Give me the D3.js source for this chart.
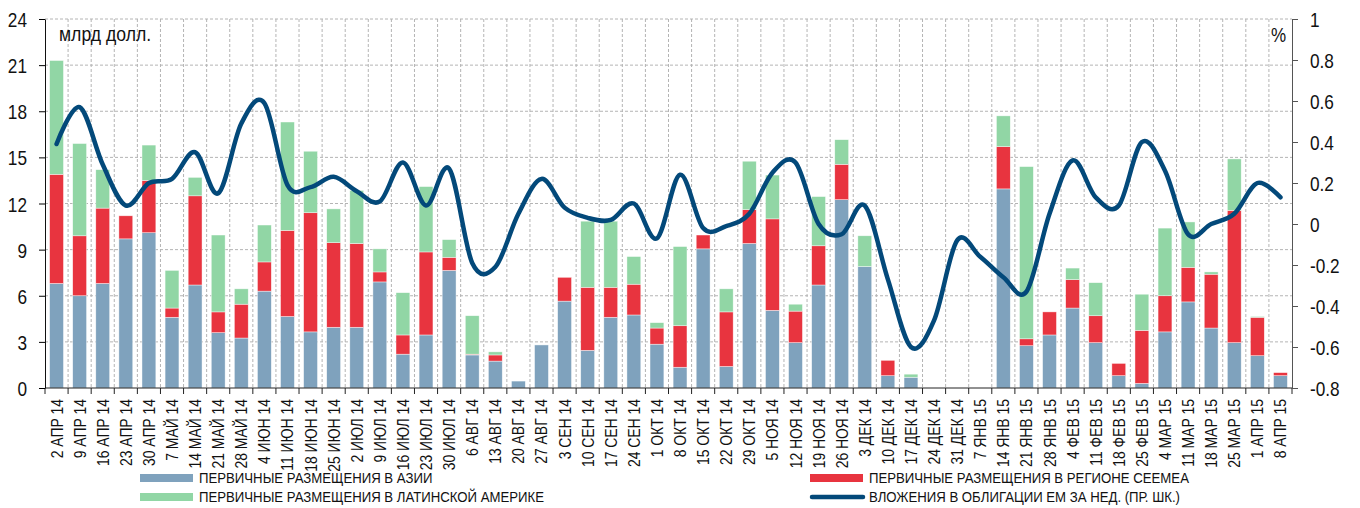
<!DOCTYPE html>
<meta charset="utf-8">
<style>
    body { margin: 0; background: #fff; }
    text { font-family: "Liberation Sans", Arial, sans-serif; fill: #111; }
    .grid line { stroke: #b4b4b4; stroke-dasharray: 3,2; }
</style>
<svg width="1360" height="508"></svg>
<script src="https://d3js.org/d3.v7.min.js"></script>
<script>

var weeks = ["2 АПР 14","9 АПР 14","16 АПР 14","23 АПР 14","30 АПР 14","7 МАЙ 14","14 МАЙ 14","21 МАЙ 14","28 МАЙ 14",
    "4 ИЮН 14","11 ИЮН 14","18 ИЮН 14","25 ИЮН 14","2 ИЮЛ 14","9 ИЮЛ 14","16 ИЮЛ 14","23 ИЮЛ 14","30 ИЮЛ 14",
    "6 АВГ 14","13 АВГ 14","20 АВГ 14","27 АВГ 14","3 СЕН 14","10 СЕН 14","17 СЕН 14","24 СЕН 14",
    "1 ОКТ 14","8 ОКТ 14","15 ОКТ 14","22 ОКТ 14","29 ОКТ 14","5 НОЯ 14","12 НОЯ 14","19 НОЯ 14","26 НОЯ 14",
    "3 ДЕК 14","10 ДЕК 14","17 ДЕК 14","24 ДЕК 14","31 ДЕК 14","7 ЯНВ 15","14 ЯНВ 15","21 ЯНВ 15","28 ЯНВ 15",
    "4 ФЕВ 15","11 ФЕВ 15","18 ФЕВ 15","25 ФЕВ 15","4 МАР 15","11 МАР 15","18 МАР 15","25 МАР 15","1 АПР 15","8 АПР 15"];

// млрд долл.
var asia = [6.8,6.0,6.8,9.7,10.1,4.6,6.7,3.6,3.25,6.3,4.65,3.65,3.95,3.95,6.9,2.2,3.45,7.65,
    2.15,1.75,0.45,2.8,5.65,2.45,4.6,4.75,2.85,1.35,9.05,1.4,9.4,5.05,2.95,6.7,12.25,
    7.9,0.8,0.7,0,0,0,12.95,2.75,3.45,5.2,2.95,0.8,0.3,3.65,5.6,3.9,2.95,2.1,0.8];
var ceemea = [7.1,3.9,4.9,1.5,3.4,0.6,5.8,1.35,2.2,1.9,5.6,7.75,5.5,5.45,0.65,1.25,5.4,0.85,
    0.05,0.4,0,0,1.55,4.1,1.95,2.0,1.05,2.7,0.9,3.55,2.2,5.95,2.05,2.55,2.3,
    0,1.0,0,0,0,0,2.75,0.45,1.5,1.85,1.75,0.8,3.45,2.35,2.25,3.5,8.6,2.5,0.2];
var latam = [7.4,6.0,2.5,0,2.3,2.45,1.2,5.0,1.0,2.4,7.05,4.0,2.2,3.45,1.5,2.75,4.25,1.15,
    2.5,0.2,0,0,0,4.3,4.3,1.8,0.35,5.15,0,1.5,3.15,2.85,0.45,3.2,1.6,
    2.0,0,0.2,0,0,0,2.0,11.2,0,0.75,2.15,0,2.35,4.4,2.95,0.15,3.35,0.05,0];
// %, правая шкала
var bondFlows = [0.39,0.57,0.29,0.09,0.2,0.22,0.35,0.15,0.49,0.59,0.19,0.18,0.23,0.16,0.11,0.3,0.09,0.27,
    -0.19,-0.21,0.05,0.22,0.08,0.03,0.02,0.1,-0.07,0.24,-0.02,-0.01,0.05,0.25,0.3,0.0,-0.05,
    0.09,-0.27,-0.6,-0.47,-0.08,-0.16,-0.26,-0.33,0.05,0.31,0.13,0.09,0.4,0.26,-0.05,0.0,0.05,0.2,0.13];

var leftTicks = [0,3,6,9,12,15,18,21,24];
var rightTicks = [-0.8,-0.6,-0.4,-0.2,0,0.2,0.4,0.6,0.8,1];

var seriesKeys = ["asia","ceemea","latam"];
var colors = {asia: "#7fa2bd", ceemea: "#e8343f", latam: "#91d6a5"};
var lineColor = "#03497a";

var svg = d3.select("svg"),
    plotLeft = 45, plotRight = 1292, plotTop = 19, plotBottom = 388;

var x = d3.scaleBand().domain(weeks).range([plotLeft, plotRight]).paddingInner(0.4).paddingOuter(0.2);
var y = d3.scaleLinear().domain([0, 24]).range([plotBottom, plotTop]);
var y2 = d3.scaleLinear().domain([-0.8, 1]).range([plotBottom, plotTop]);

var rows = weeks.map(function(w, i) {
    return {week: w, asia: asia[i], ceemea: ceemea[i], latam: latam[i], flow: bondFlows[i]};
});

// narrow-looking text (no Arial Narrow available)
function narrowText(sel, px, py, sx, extra) {
    sel.attr("x", 0).attr("y", 0)
       .attr("transform", "translate(" + px + "," + py + ")" + (extra || "") + " scale(" + sx + ",1)");
}

// grid
var step = x.step(), half = (step - x.bandwidth()) / 2;
var grid = svg.append("g").attr("class", "grid");
grid.selectAll(".h").data(leftTicks.filter(function(d){ return d > 0; }))
    .enter().append("line")
    .attr("x1", plotLeft).attr("x2", plotRight)
    .attr("y1", function(d){ return y(d); }).attr("y2", function(d){ return y(d); });
grid.selectAll(".v").data(weeks.slice(1))
    .enter().append("line")
    .attr("x1", function(d){ return x(d) - half; }).attr("x2", function(d){ return x(d) - half; })
    .attr("y1", plotTop).attr("y2", plotBottom);

// stacked bars
var stack = d3.stack().keys(seriesKeys)(rows);
svg.append("g").selectAll("g").data(stack).enter().append("g")
    .attr("fill", function(s){ return colors[s.key]; })
    .selectAll("rect").data(function(s){ return s; })
    .enter().append("rect")
    .attr("x", function(d){ return x(d.data.week); })
    .attr("width", x.bandwidth())
    .attr("y", function(d){ return y(d[1]); })
    .attr("height", function(d){ return y(d[0]) - y(d[1]); })
    .attr("stroke", "#fff").attr("stroke-width", 0.6).attr("stroke-opacity", 0.7);

// line
var line = d3.line()
    .x(function(d){ return x(d.week) + x.bandwidth() / 2; })
    .y(function(d){ return y2(d.flow); })
    .curve(d3.curveCardinal.tension(0));
svg.append("path").datum(rows)
    .attr("fill", "none").attr("stroke", lineColor).attr("stroke-width", 4.5)
    .attr("stroke-linejoin", "round").attr("stroke-linecap", "round")
    .attr("d", line);

// axes
var xAxis = svg.append("g").attr("transform", "translate(0," + plotBottom + ")");
xAxis.append("line").attr("x1", plotLeft).attr("x2", plotRight).attr("stroke", "#222");
xAxis.selectAll(".tk").data(weeks.concat(["end"])).enter().append("line")
    .attr("x1", function(d, i){ return plotLeft + i * step; }).attr("x2", function(d, i){ return plotLeft + i * step; })
    .attr("y1", 0).attr("y2", 6).attr("stroke", "#222");
xAxis.selectAll("text").data(weeks).enter().append("text")
    .attr("text-anchor", "end")
    .style("font-size", "16px")
    .text(function(d){ return d; })
    .each(function(d){
        narrowText(d3.select(this), x(d) + x.bandwidth() / 2 + 6, 11, 0.87, " rotate(-90)");
    });

var yAxis = svg.append("g").attr("transform", "translate(" + plotLeft + ",0)")
    .call(d3.axisLeft(y).tickValues(leftTicks).tickSize(6).tickSizeOuter(0));
yAxis.selectAll("text").style("font-size", "21px")
    .each(function(){ narrowText(d3.select(this), -18, 0, 0.82); });
yAxis.selectAll("text").attr("dy", "0.36em");
yAxis.select(".domain").attr("stroke", "#111");

var yAxis2 = svg.append("g").attr("transform", "translate(" + plotRight + ",0)")
    .call(d3.axisRight(y2).tickValues(rightTicks).tickSize(6).tickSizeOuter(0)
        .tickFormat(function(d){ return String(+d.toFixed(1)); }));
yAxis2.selectAll("text").style("font-size", "21px").attr("text-anchor", "start")
    .each(function(){ narrowText(d3.select(this), 18, 0, 0.82); });
yAxis2.selectAll("text").attr("dy", "0.36em");
yAxis2.select(".domain").attr("stroke", "#555");
yAxis2.selectAll(".tick line").attr("stroke", "#555");

svg.append("text").style("font-size", "20.5px").text("млрд долл.")
    .call(narrowText, 59, 41, 0.86);
svg.append("text").style("font-size", "20px").text("%")
    .call(narrowText, 1271, 42, 0.85);

// legend
var legend = [
    {label: "ПЕРВИЧНЫЕ РАЗМЕЩЕНИЯ В АЗИИ", color: colors.asia, x: 140, y: 478, type: "rect"},
    {label: "ПЕРВИЧНЫЕ РАЗМЕЩЕНИЯ В ЛАТИНСКОЙ АМЕРИКЕ", color: colors.latam, x: 140, y: 497, type: "rect"},
    {label: "ПЕРВИЧНЫЕ РАЗМЕЩЕНИЯ В РЕГИОНЕ CEEMEA", color: colors.ceemea, x: 810, y: 478, type: "rect"},
    {label: "ВЛОЖЕНИЯ В ОБЛИГАЦИИ ЕМ ЗА НЕД. (ПР. ШК.)", color: lineColor, x: 810, y: 497, type: "line"}
];
var lg = svg.append("g").selectAll("g").data(legend).enter().append("g")
    .attr("transform", function(d){ return "translate(" + d.x + "," + d.y + ")"; });
lg.filter(function(d){ return d.type === "rect"; }).append("rect")
    .attr("x", 0).attr("y", -4).attr("width", 53).attr("height", 8).attr("fill", function(d){ return d.color; });
lg.filter(function(d){ return d.type === "line"; }).append("line")
    .attr("x1", 2).attr("x2", 53).attr("stroke", function(d){ return d.color; })
    .attr("stroke-width", 4.5).attr("stroke-linecap", "round");
lg.append("text").style("font-size", "15px")
    .text(function(d){ return d.label; })
    .each(function(){ narrowText(d3.select(this), 59, 0, 0.88); });
lg.selectAll("text").attr("dy", "0.36em");

</script>
